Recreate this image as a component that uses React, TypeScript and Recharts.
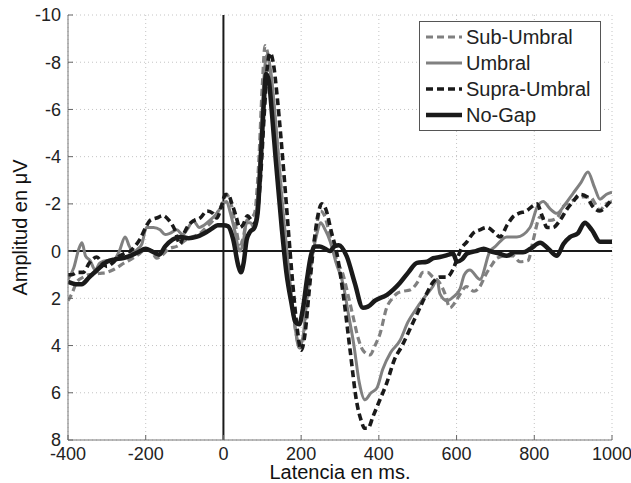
import React from "react";
import {
  LineChart,
  Line,
  XAxis,
  YAxis,
  CartesianGrid,
  ReferenceLine,
  Legend,
} from "recharts";

// latency (ms), amplitude (µV) pairs
const subUmbral: [number, number][] = [
  [-400, 2.1], [-390, 1.8], [-377, 1.3], [-360, 1.1], [-345, 1.0], [-336, 1.0], [-320, 0.95],
  [-300, 0.9], [-285, 0.8], [-274, 0.7], [-255, 0.5], [-233, 0.3], [-215, 0.1], [-200, -0.1],
  [-185, 0.0], [-172, 0.3], [-160, 0.2], [-140, -0.1], [-120, -0.2], [-94, -0.5], [-80, -0.6],
  [-60, -0.75], [-45, -1.0], [-27, -1.3], [-10, -1.8], [0, -2.1], [8, -2.4], [18, -2.1],
  [30, -1.2], [42, -0.3], [50, -0.5], [60, -1.3], [70, -1.4], [80, -1.6], [90, -3.5],
  [100, -7.0], [107, -8.7], [115, -8.3], [125, -7.0], [135, -5.2], [145, -3.3], [155, -1.4],
  [165, 0.4], [175, 2.0], [187, 3.5], [197, 4.1], [207, 3.6], [218, 1.8], [230, 0.0],
  [240, -1.1], [250, -1.7], [260, -1.5], [275, -0.6], [292, 0.4], [308, 1.0], [320, 1.8],
  [334, 2.8], [347, 3.7], [359, 4.2], [377, 4.4], [390, 4.0], [403, 3.5], [420, 2.4],
  [435, 2.0], [446, 1.8], [462, 1.7], [480, 1.65], [500, 1.3], [513, 0.9], [525, 0.9],
  [539, 1.1], [555, 1.3], [570, 1.8], [583, 2.4], [595, 2.2], [610, 1.8], [625, 1.5],
  [645, 1.7], [660, 1.5], [675, 1.0], [690, 0.6], [704, 0.3], [725, 0.2], [745, 0.2],
  [763, 0.45], [784, 0.4], [797, -0.45], [815, -1.45], [840, -1.3], [858, -1.4], [875, -1.9],
  [895, -2.1], [918, -2.3], [943, -2.3], [969, -1.75], [985, -2.0], [1000, -2.1],
];

const umbral: [number, number][] = [
  [-400, 1.2], [-385, 0.7], [-372, -0.1], [-364, -0.35], [-355, 0.2], [-343, 0.4], [-330, 0.8],
  [-318, 0.5], [-300, 0.4], [-284, 0.4], [-268, 0.0], [-253, -0.6], [-242, -0.2], [-232, 0.05],
  [-220, -0.1], [-210, -0.3], [-198, -1.0], [-180, -1.0], [-163, -0.9], [-150, -0.7],
  [-138, -0.75], [-120, -0.9], [-105, -0.7], [-90, -1.0], [-78, -1.3], [-62, -1.0], [-50, -1.1],
  [-35, -1.3], [-17, -1.6], [0, -2.0], [8, -2.1], [18, -1.6], [30, -0.8], [42, 0.0], [50, -0.3],
  [60, -1.2], [70, -1.2], [78, -1.0], [88, -2.3], [97, -5.0], [105, -7.5], [112, -8.3],
  [120, -7.8], [130, -6.3], [140, -4.3], [150, -2.3], [160, -0.5], [170, 1.2], [182, 2.9],
  [195, 4.1], [205, 3.6], [215, 2.0], [228, 0.3], [240, -0.7], [250, -1.2], [262, -0.9],
  [275, -0.4], [290, 0.5], [308, 1.4], [322, 2.7], [335, 3.9], [350, 5.6], [364, 6.3],
  [380, 6.0], [395, 5.8], [410, 5.0], [430, 4.3], [454, 3.8], [475, 3.0], [498, 2.4],
  [520, 1.9], [539, 1.5], [550, 1.2], [557, 1.8], [575, 2.1], [591, 1.95], [609, 1.6],
  [620, 1.0], [634, 0.8], [660, 1.2], [686, 0.0], [700, -0.2], [729, -0.6], [755, -0.6],
  [789, -1.0], [807, -1.85], [823, -2.1], [840, -1.8], [858, -1.6], [880, -2.0], [900, -2.45],
  [920, -2.9], [938, -3.35], [955, -2.7], [969, -2.2], [985, -2.4], [1000, -2.5],
];

const supraUmbral: [number, number][] = [
  [-400, 1.0], [-390, 1.0], [-375, 0.9], [-361, 0.9], [-345, 0.5], [-326, 0.25], [-312, 0.5],
  [-300, 0.65], [-285, 0.5], [-271, 0.25], [-255, 0.1], [-240, 0.0], [-228, -0.2], [-215, -0.5],
  [-200, -1.0], [-189, -1.3], [-172, -1.4], [-155, -1.5], [-140, -1.3], [-125, -0.9],
  [-112, -0.3], [-100, -0.8], [-90, -1.1], [-75, -1.3], [-60, -1.4], [-42, -1.7], [-27, -1.6],
  [-17, -1.4], [-5, -1.9], [5, -2.4], [12, -2.4], [22, -2.0], [32, -1.5], [42, -1.0],
  [50, -1.1], [62, -1.5], [72, -1.3], [82, -1.2], [95, -3.0], [105, -5.8], [113, -7.8],
  [120, -8.4], [128, -8.0], [138, -6.6], [148, -4.8], [158, -2.8], [168, -0.7], [178, 1.3],
  [190, 3.3], [200, 4.2], [210, 3.5], [220, 1.8], [232, -0.2], [243, -1.5], [253, -2.0],
  [263, -1.8], [278, -0.8], [292, 0.1], [308, 1.8], [326, 4.2], [343, 6.4], [355, 7.2],
  [363, 7.5], [372, 7.5], [385, 7.0], [400, 6.4], [420, 5.6], [440, 4.6], [460, 4.0],
  [480, 3.3], [500, 2.6], [520, 1.9], [540, 1.3], [557, 1.1], [575, 1.1], [590, 0.8],
  [600, 0.4], [612, -0.1], [627, -0.4], [642, -0.75], [660, -0.9], [678, -1.0], [697, -0.8],
  [712, -0.6], [730, -1.1], [745, -1.45], [760, -1.6], [780, -1.7], [795, -1.9], [807, -2.0],
  [820, -1.5], [833, -1.0], [848, -1.0], [866, -1.3], [885, -1.8], [900, -2.1], [918, -2.4],
  [935, -2.3], [950, -1.9], [969, -1.7], [985, -1.9], [1000, -2.2],
];

const noGap: [number, number][] = [
  [-400, 1.3], [-380, 1.4], [-365, 1.4], [-345, 1.1], [-325, 0.8], [-300, 0.45], [-280, 0.35],
  [-260, 0.3], [-240, 0.2], [-220, 0.05], [-200, -0.1], [-185, 0.0], [-165, 0.15], [-150, -0.2],
  [-130, -0.5], [-110, -0.6], [-90, -0.55], [-70, -0.6], [-50, -0.75], [-30, -0.95],
  [-15, -1.1], [0, -1.1], [12, -1.05], [25, -0.5], [38, 0.6], [45, 0.9], [52, 0.5], [60, -0.5],
  [68, -0.8], [80, -1.0], [88, -1.6], [95, -3.5], [103, -6.0], [110, -7.5], [117, -7.2],
  [125, -5.8], [135, -3.8], [150, -1.0], [162, 0.9], [175, 2.2], [185, 3.0], [195, 3.1],
  [205, 2.4], [215, 1.2], [225, 0.2], [235, -0.2], [248, -0.2], [262, -0.1], [274, 0.0],
  [286, -0.2], [297, -0.25], [318, 0.25], [338, 1.35], [359, 2.4], [372, 2.35], [390, 2.1],
  [421, 1.85], [454, 1.35], [476, 0.9], [498, 0.5], [524, 0.45], [540, 0.3], [557, 0.25],
  [580, 0.15], [591, 0.1], [601, 0.45], [614, 0.35], [627, 0.1], [650, 0.0], [670, -0.1],
  [686, 0.0], [710, 0.1], [729, 0.2], [750, 0.05], [771, 0.05], [790, -0.1], [815, -0.35],
  [836, -0.1], [858, 0.2], [875, -0.3], [892, -0.6], [912, -0.75], [930, -1.2], [948, -0.9],
  [969, -0.4], [1000, -0.4],
];

const xTicks = [-400, -200, 0, 200, 400, 600, 800, 1000];
const yTicks = [-10, -8, -6, -4, -2, 0, 2, 4, 6, 8];

const GRAY = "#808080";
const BLACK = "#1a1a1a";
const FONT = "'Liberation Sans', Arial, sans-serif";

const series = [
  { name: "Sub-Umbral", data: subUmbral, color: GRAY, width: 3.2, dash: "7 4" },
  { name: "Umbral", data: umbral, color: GRAY, width: 3, dash: undefined },
  { name: "Supra-Umbral", data: supraUmbral, color: BLACK, width: 3.6, dash: "7 4" },
  { name: "No-Gap", data: noGap, color: BLACK, width: 4.5, dash: undefined },
];

const toPoints = (pairs: [number, number][]) => pairs.map(([t, v]) => ({ t, v }));

const TICK_OFF = 8;

const XTick = (props: any) => {
  const { x, y, payload } = props;
  return (
    <g>
      <line x1={x} x2={x} y1={y - TICK_OFF} y2={y - TICK_OFF - 5} stroke="#666" />
      <text x={x} y={y - 1} dy="0.71em" textAnchor="middle" fontSize={18} fill="#222" fontFamily={FONT}>
        {payload.value}
      </text>
    </g>
  );
};

const YTick = (props: any) => {
  const { x, y, payload } = props;
  return (
    <g>
      <line x1={x + TICK_OFF} x2={x + TICK_OFF + 5} y1={y} y2={y} stroke="#666" />
      <text x={x + 1} y={y} dy="0.355em" textAnchor="end" fontSize={18} fill="#222" fontFamily={FONT}>
        {payload.value}
      </text>
    </g>
  );
};

const LegendBox = () => (
  <div
    style={{
      border: "1px solid #555",
      background: "#fff",
      padding: "2px 10px 2px 6px",
      fontFamily: FONT,
      fontSize: 20,
      color: "#222",
      lineHeight: "26px",
    }}
  >
    {series.map((s) => (
      <div key={s.name} style={{ display: "flex", alignItems: "center", whiteSpace: "nowrap" }}>
        <svg width={36} height={10} style={{ marginRight: 4 }}>
          <line x1={0} x2={36} y1={5} y2={5} stroke={s.color} strokeWidth={s.width} strokeDasharray={s.dash} />
        </svg>
        {s.name}
      </div>
    ))}
  </div>
);

export default function App() {
  return (
    <div style={{ position: "absolute", left: 0, top: 0, width: 631, height: 483, background: "#fff" }}>
      <LineChart width={631} height={483} margin={{ top: 15, right: 19, bottom: 0, left: 0 }}>
        <CartesianGrid stroke="#c4c4c4" strokeDasharray="1 3" />
        <XAxis
          type="number"
          dataKey="t"
          domain={[-400, 1000]}
          ticks={xTicks}
          allowDataOverflow
          height={43}
          stroke="#777"
          tickSize={6}
          tickMargin={2}
          tickLine={false}
          tick={<XTick />}
          label={{ value: "Latencia en ms.", position: "insideBottom", offset: 4, fontSize: 20, fill: "#111", fontFamily: FONT }}
        />
        <YAxis
          type="number"
          domain={[-10, 8]}
          ticks={yTicks}
          reversed
          allowDataOverflow
          width={68}
          stroke="#777"
          tickSize={6}
          tickMargin={2}
          tickLine={false}
          tick={<YTick />}
          label={{
            content: ({ viewBox }: any) => {
              const cx = viewBox.x + 22;
              const cy = viewBox.y + viewBox.height / 2;
              return (
                <text
                  x={cx}
                  y={cy}
                  transform={`rotate(-90, ${cx}, ${cy})`}
                  textAnchor="middle"
                  dominantBaseline="middle"
                  fontSize={20}
                  fill="#111"
                  fontFamily={FONT}
                >
                  Amplitud en μV
                </text>
              );
            },
          }}
        />
        <ReferenceLine x={0} stroke={BLACK} strokeWidth={2} />
        <ReferenceLine y={0} stroke={BLACK} strokeWidth={2} />
        {series.map((s) => (
          <Line
            key={s.name}
            data={toPoints(s.data)}
            dataKey="v"
            name={s.name}
            type="monotone"
            dot={false}
            stroke={s.color}
            strokeWidth={s.width}
            strokeDasharray={s.dash}
            isAnimationActive={false}
          />
        ))}
        <Legend
          layout="horizontal"
          verticalAlign="middle"
          align="center"
          content={<LegendBox />}
          wrapperStyle={{ position: "absolute", left: 419, top: 21, width: "auto" }}
        />
      </LineChart>
    </div>
  );
}
